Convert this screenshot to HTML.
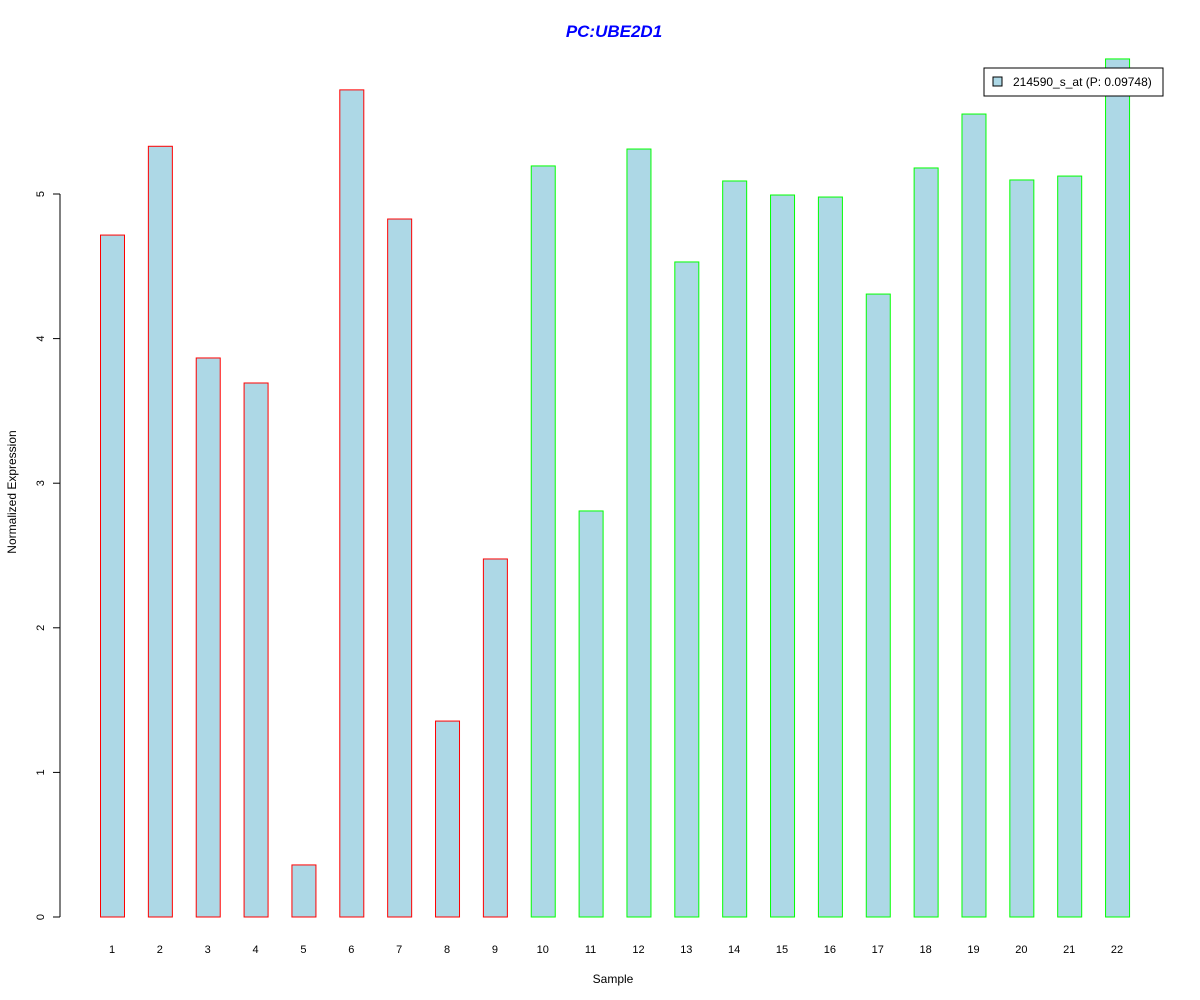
<!DOCTYPE html>
<html><head><meta charset="utf-8"><style>
body{margin:0;background:#fff;}
svg{display:block;font-family:"Liberation Sans",Arial,sans-serif;}
</style></head><body>
<svg id="chart" width="1200" height="1000">
<text x="614" y="37" text-anchor="middle" font-size="17" font-weight="bold" font-style="italic" fill="#0000ff">PC:UBE2D1</text>
<text x="613" y="983" text-anchor="middle" font-size="12">Sample</text>
<text transform="translate(16,492) rotate(-90)" text-anchor="middle" font-size="12">Normalized Expression</text>
<g id="yaxis"></g>
<g id="bars"></g>
<g id="xlabels"></g>
<g>
<rect x="984" y="68" width="179" height="28" fill="#fff" stroke="#000" stroke-width="1"/>
<rect x="993" y="77" width="9" height="9" fill="#add8e6" stroke="#000" stroke-width="1"/>
<text x="1013" y="86" font-size="12">214590_s_at (P: 0.09748)</text>
</g>
</svg>
<script>
const categories=["1","2","3","4","5","6","7","8","9","10","11","12","13","14","15","16","17","18","19","20","21","22"];
const values=[4.716,5.33,3.866,3.693,0.36,5.72,4.827,1.355,2.476,5.194,2.808,5.311,4.53,5.09,4.993,4.979,4.308,5.18,5.553,5.097,5.124,5.934];
const groups=["red","red","red","red","red","red","red","red","red","green","green","green","green","green","green","green","green","green","green","green","green","green"];
const yTicks=[0,1,2,3,4,5];
const NS="http://www.w3.org/2000/svg";
const y=v=>917-v*144.6;
const x=i=>112+i*47.86;
const bw=24;
const colors={red:"#ff0000",green:"#00ff00"};
const ya=document.getElementById("yaxis");
let l=document.createElementNS(NS,"line");
l.setAttribute("x1",60);l.setAttribute("x2",60);l.setAttribute("y1",y(yTicks[0]));l.setAttribute("y2",y(yTicks[yTicks.length-1]));l.setAttribute("stroke","#000");


ya.appendChild(l);
yTicks.forEach(t=>{
 const k=document.createElementNS(NS,"line");
 k.setAttribute("x1",53);k.setAttribute("x2",60);k.setAttribute("y1",y(t));k.setAttribute("y2",y(t));k.setAttribute("stroke","#000");
 
 
 ya.appendChild(k);
 const tx=document.createElementNS(NS,"text");
 tx.setAttribute("transform",`translate(44,${y(t)}) rotate(-90)`);
 tx.setAttribute("text-anchor","middle");tx.setAttribute("font-size","11");
 tx.textContent=t;
 
 
 ya.appendChild(tx);
});
const bg=document.getElementById("bars"),xl=document.getElementById("xlabels");
values.forEach((v,i)=>{
 const r=document.createElementNS(NS,"rect");
 r.setAttribute("x",x(i)-bw/2+0.5);r.setAttribute("y",y(v));r.setAttribute("width",bw);r.setAttribute("height",y(0)-y(v));
 r.setAttribute("fill","#add8e6");r.setAttribute("stroke",colors[groups[i]]);r.setAttribute("stroke-width","1");
 
 
 bg.appendChild(r);
 const t=document.createElementNS(NS,"text");
 t.setAttribute("x",x(i));t.setAttribute("y",953);t.setAttribute("text-anchor","middle");t.setAttribute("font-size","11");
 t.textContent=categories[i];
 
 
 xl.appendChild(t);
});
</script>
</body></html>
